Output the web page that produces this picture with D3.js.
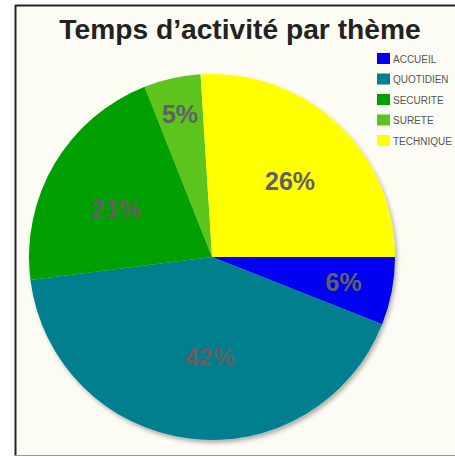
<!DOCTYPE html>
<html><head><meta charset="utf-8">
<script src="https://cdn.jsdelivr.net/npm/d3@7"></script>
<style>html,body{margin:0;padding:0;background:#fff;}svg{display:block;}</style>
</head><body>
<script>
const categories = ["ACCUEIL", "QUOTIDIEN", "SECURITE", "SURETE", "TECHNIQUE"];
const values = [6, 42, 21, 5, 26];
const colors = ["#0000f2", "#00808f", "#00a000", "#5cc41c", "#ffff00"];
const labelTexts = ["6%", "42%", "21%", "5%", "26%"];
const labelRadius = [134, 100, 107, 147, 109];
const labelAngleShift = [0, -6, -4, 0, 2.5];
const title = "Temps d\u2019activité par thème";

const W = 455, H = 457;
const svg = d3.select("body").append("svg").attr("width", W).attr("height", H);

const defs = svg.append("defs");
const f = defs.append("filter").attr("id", "sh").attr("x", "-10%").attr("y", "-10%").attr("width", "130%").attr("height", "130%");
f.append("feDropShadow").attr("dx", 2).attr("dy", 3).attr("stdDeviation", 2).attr("flood-color", "#000").attr("flood-opacity", 0.3);

// frame
svg.append("rect").attr("x", 16).attr("y", 6).attr("width", 450).attr("height", 449).attr("fill", "#fdfcf4");
svg.append("line").attr("x1", 15.5).attr("x2", 15.5).attr("y1", 5).attr("y2", 456).attr("stroke", "#222").attr("stroke-width", 2);
svg.append("line").attr("x1", 15).attr("x2", 455).attr("y1", 5.5).attr("y2", 5.5).attr("stroke", "#222").attr("stroke-width", 2);
svg.append("line").attr("x1", 15).attr("x2", 455).attr("y1", 455.5).attr("y2", 455.5).attr("stroke", "#999").attr("stroke-width", 1);

svg.append("text").attr("x", 240).attr("y", 39).attr("text-anchor", "middle")
  .attr("font-family", "Liberation Sans, Arial, sans-serif").attr("font-weight", "bold")
  .attr("font-size", 28.2).attr("fill", "#222").text(title);

const cx = 212, cy = 257, R = 183;
const pie = d3.pie().sort(null).value(d => d).startAngle(Math.PI / 2).endAngle(Math.PI / 2 + 2 * Math.PI);
const arcs = pie(values);
const arc = d3.arc().innerRadius(0).outerRadius(R);
const g = svg.append("g").attr("transform", `translate(${cx},${cy})`);
g.append("g").attr("filter", "url(#sh)").selectAll("path").data(arcs).join("path")
  .attr("d", arc).attr("fill", (d, i) => colors[i]);

g.selectAll("text.lbl").data(arcs).join("text").attr("class", "lbl")
  .each(function (d, i) {
    const a = (d.startAngle + d.endAngle) / 2 + labelAngleShift[i] * Math.PI / 180;
    const r = labelRadius[i];
    d3.select(this).attr("x", r * Math.sin(a)).attr("y", -r * Math.cos(a));
  })
  .attr("text-anchor", "middle").attr("dy", "0.36em")
  .attr("font-family", "Liberation Sans, Arial, sans-serif").attr("font-weight", "bold")
  .attr("font-size", 25).attr("fill", "#616066").text((d, i) => labelTexts[i]);

const leg = svg.append("g").attr("transform", "translate(377,53)");
const items = leg.selectAll("g").data(categories).join("g").attr("transform", (d, i) => `translate(0,${i * 20.5})`);
items.append("rect").attr("width", 13).attr("height", 11).attr("fill", (d, i) => colors[i]);
items.append("text").attr("x", 16).attr("y", 9.5)
  .attr("font-family", "Liberation Sans Narrow, Arial Narrow, sans-serif").attr("font-size", 10)
  .attr("fill", "#555").text(d => d);
</script>
</body></html>
